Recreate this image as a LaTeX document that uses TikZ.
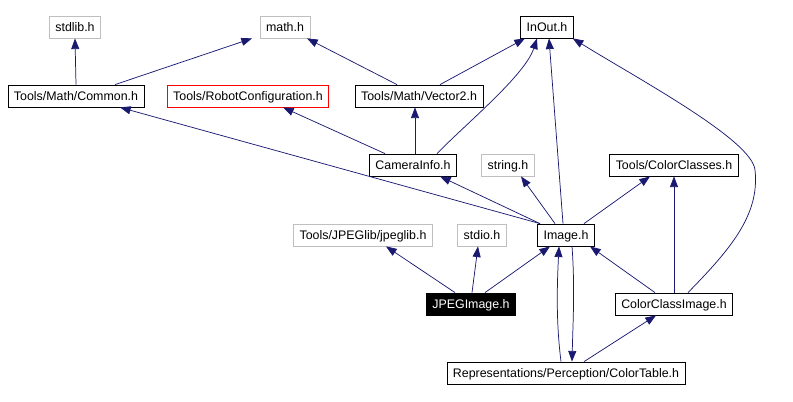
\documentclass[tikz,border=0pt]{standalone}
\usepackage{fontspec}
\setmainfont{Liberation Sans}
\usetikzlibrary{arrows.meta,calc}
\definecolor{edgeblue}{HTML}{191970}
\definecolor{sysgray}{HTML}{BFBFBF}
\begin{document}
\begin{tikzpicture}[x=0.75pt, y=-0.75pt,
file/.style={draw=black, line width=0.6pt, minimum height=16.5pt, inner xsep=4.5pt, inner ysep=0pt, text height=7pt, text depth=0pt, font=\fontsize{9.3}{11}\selectfont},
sys/.style={file, draw=sysgray},
badfile/.style={file, draw=red},
mainfile/.style={file, fill=black, text=white},
dep/.style={draw=edgeblue, line width=0.55pt, -{Triangle[length=8pt,width=6pt]}}]
\useasboundingbox (0,0) rectangle (793,401);
\node[sys] (stdlib) at (75,27) {stdlib.h};
\node[sys] (math) at (285,27) {math.h};
\node[file] (inout) at (547,27) {InOut.h};
\node[file] (common) at (76,96) {Tools/Math/Common.h};
\node[badfile] (robot) at (248,96) {Tools/RobotConfiguration.h};
\node[file] (vec) at (419,96) {Tools/Math/Vector2.h};
\node[file] (cam) at (413,165) {CameraInfo.h};
\node[sys] (string) at (508,165) {string.h};
\node[file] (colcl) at (674,165) {Tools/ColorClasses.h};
\node[sys] (jpeglib) at (363,235) {Tools/JPEGlib/jpeglib.h};
\node[sys] (stdio) at (482,235) {stdio.h};
\node[file] (img) at (566,235) {Image.h};
\node[mainfile] (jpeg) at (471,304) {JPEGImage.h};
\node[file] (cci) at (674,304) {ColorClassImage.h};
\node[file] (ctab) at (566,373) {Representations/Perception/ColorTable.h};

\draw[dep] (common.north) -- (stdlib.south);
\draw[dep] ($(common.north)+(39,0)$) -- ($(math.south)+(-33,0)$);
\draw[dep] ($(vec.north)+(-22,0)$) -- ($(math.south)+(22,0)$);
\draw[dep] ($(vec.north)+(21,0)$) -- ($(inout.south)+(-22,0)$);
\draw[dep] ($(cam.north)+(-28,0)$) -- ($(robot.south)+(35,0)$);
\draw[dep] ($(cam.north)+(2,0)$) -- ($(vec.south)+(-4,0)$);
\draw[dep] ($(cam.north)+(24,0)$) .. controls +(28,-29) and +(-12,37) .. ($(inout.south)+(-10,0)$);
\draw[dep] ($(img.north)+(-26,0)$) -- ($(common.south)+(44,0)$);
\draw[dep] ($(img.north)+(-26,0)$) -- ($(cam.south)+(27,0)$);
\draw[dep] ($(img.north)+(-11,0)$) -- ($(string.south)+(13,0)$);
\draw[dep] ($(img.north)+(-3,0)$) -- ($(inout.south)+(2,0)$);
\draw[dep] ($(img.north)+(18,0)$) -- ($(colcl.south)+(-24,0)$);
\draw[dep] ($(img.south)+(6,0)$) .. controls +(3,40) and +(1,-40) .. ($(ctab.north)+(6,0)$);
\draw[dep] ($(ctab.north)+(-5,0)$) .. controls +(-5,-40) and +(-2,40) .. ($(img.south)+(-7,0)$);
\draw[dep] ($(jpeg.north)+(-16,0)$) -- ($(jpeglib.south)+(23,0)$);
\draw[dep] ($(jpeg.north)+(1,0)$) -- ($(stdio.south)+(-4,0)$);
\draw[dep] ($(jpeg.north)+(14,0)$) -- ($(img.south)+(-16,0)$);
\draw[dep] ($(cci.north)+(-19,0)$) -- ($(img.south)+(24,0)$);
\draw[dep] (cci.north) -- (colcl.south);
\draw[dep] ($(cci.north)+(14,0)$) .. controls +(42,-43) and +(5,45) .. (755,170)
  .. controls +(-3,-30) and +(68,42) .. ($(inout.south east)+(-1,0)$);
\draw[dep] ($(ctab.north)+(18,0)$) -- ($(cci.south)+(-18,0)$);
\end{tikzpicture}
\end{document}
